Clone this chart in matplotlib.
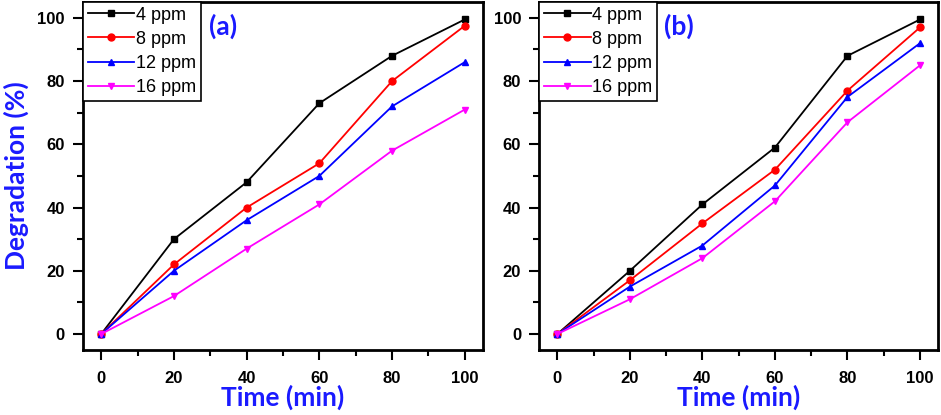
import numpy as np
import matplotlib
matplotlib.use('Agg')
import matplotlib.pyplot as plt

# data
time = [0, 20, 40, 60, 80, 100]
labels = ['4 ppm', '8 ppm', '12 ppm', '16 ppm']

deg_a = [
    [0, 30, 48, 73, 88, 99.5],
    [0, 22, 40, 54, 80, 97.5],
    [0, 20, 36, 50, 72, 86],
    [0, 12, 27, 41, 58, 71],
]
deg_b = [
    [0, 20, 41, 59, 88, 99.5],
    [0, 17, 35, 52, 77, 97],
    [0, 15, 28, 47, 75, 92],
    [0, 11, 24, 42, 67, 85],
]

colors = ['black', 'red', 'blue', 'magenta']
markers = ['s', 'o', '^', 'v']

plt.rcParams['font.family'] = ['Liberation Sans', 'DejaVu Sans']
blue = '#1a1aff'

fig = plt.figure(figsize=(9.41, 4.15), dpi=100)
ax1 = fig.add_axes([0.0882, 0.157, 0.425, 0.838])
ax2 = fig.add_axes([0.573, 0.157, 0.424, 0.838])

for ax, data, tag in [(ax1, deg_a, '(a)'), (ax2, deg_b, '(b)')]:
    for y, c, m, lab in zip(data, colors, markers, labels):
        ax.plot(time, y, color=c, marker=m, markersize=5, linewidth=1.3, label=lab)
    ax.set_xlim(-5, 105)
    ax.set_ylim(-5, 105)
    ax.set_xticks([0, 20, 40, 60, 80, 100])
    ax.set_yticks([0, 20, 40, 60, 80, 100])
    ax.set_xticks(np.arange(10, 100, 20), minor=True)
    ax.set_yticks(np.arange(10, 100, 20), minor=True)
    ax.tick_params(which='major', direction='out', length=7, width=1.5, labelsize=12)
    ax.tick_params(axis='x', which='major', pad=8)
    ax.tick_params(axis='y', which='major', pad=6)
    ax.tick_params(which='minor', direction='out', length=4, width=1.5)
    for lbl in ax.get_xticklabels() + ax.get_yticklabels():
        lbl.set_fontweight('bold')
    for s in ax.spines.values():
        s.set_linewidth(2)
    ax.set_xlabel('Time (min)', color=blue, fontsize=19, fontweight='bold',
                  family='Lato', labelpad=-1)
    ax.text(0.35, 0.93, tag, transform=ax.transAxes, color=blue, fontsize=19,
            fontweight='bold', family='Lato', ha='center', va='center')
    leg = ax.legend(loc='upper left', borderaxespad=0, fancybox=False, fontsize=13,
                    handlelength=2.6, handletextpad=0.1, labelspacing=0.4,
                    borderpad=0.25, framealpha=1)
    leg.get_frame().set_edgecolor('black')
    leg.get_frame().set_linewidth(1.2)

ax1.set_ylabel('Degradation (%)', color=blue, fontsize=19, fontweight='bold',
               family='Lato', labelpad=6)

fig.savefig('out.png', dpi=100)
